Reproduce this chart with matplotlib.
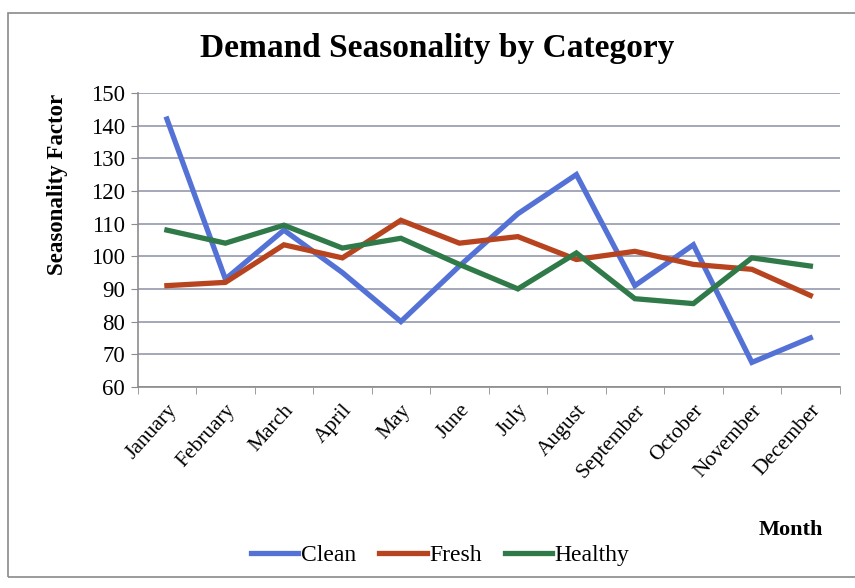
import numpy as np
import matplotlib.pyplot as plt
from matplotlib.patches import Rectangle
from matplotlib.ticker import FixedLocator, NullFormatter

plt.rcParams['font.family'] = ['Liberation Serif', 'DejaVu Serif']

months = ["January", "February", "March", "April", "May", "June", "July",
          "August", "September", "October", "November", "December"]
clean = [142, 93, 108, 95, 80, 97, 113, 125, 91, 103.5, 67.5, 75]
fresh = [91, 92, 103.5, 99.5, 111, 104, 106, 99, 101.5, 97.5, 96, 88]
healthy = [108, 104, 109.5, 102.5, 105.5, 97.5, 90, 101, 87, 85.5, 99.5, 97]

series = [("Clean", clean, "#5472d6"),
          ("Fresh", fresh, "#b8431f"),
          ("Healthy", healthy, "#2f7a48")]

fig = plt.figure(figsize=(8.55, 5.88), dpi=100)
ax = fig.add_axes([0.161, 0.342, 0.821, 0.500])

x = np.arange(len(months))
for name, vals, col in series:
    ax.plot(x, vals, color=col, linewidth=3.8, label=name, solid_joinstyle='miter')

ax.set_xlim(-0.5, len(months) - 0.5)
ax.set_ylim(60, 150)
ax.set_yticks(np.arange(60, 151, 10))
ax.yaxis.grid(True, color="#8c8fa6", linewidth=1.1)
ax.set_axisbelow(True)

# month labels sit on the categories, tick marks go between them
ax.set_xticks(x)
ax.set_xticklabels(months, rotation=48, ha='right', rotation_mode='anchor', fontsize=15.5)
ax.xaxis.set_minor_locator(FixedLocator(np.arange(-0.5, len(months), 1)))
ax.xaxis.set_minor_formatter(NullFormatter())
ax.tick_params(axis='x', which='major', length=0, pad=10)
ax.tick_params(axis='x', which='minor', length=5, color="#8c8c8c")
ax.tick_params(axis='y', length=5, color="#8c8c8c", labelsize=16.5, pad=4)

for side in ("top", "right"):
    ax.spines[side].set_visible(False)
for side in ("left", "bottom"):
    ax.spines[side].set_color("#8c8c8c")
    ax.spines[side].set_linewidth(1.2)

fig.text(0.511, 0.918, "Demand Seasonality by Category", ha='center', va='center',
         fontsize=24, fontweight='bold')
fig.text(0.067, 0.687, "Seasonality Factor", rotation=90, ha='center', va='center',
         fontsize=16.5, fontweight='bold')
fig.text(0.925, 0.098, "Month", ha='center', va='center', fontsize=16, fontweight='bold')

fig.legend(loc='center', bbox_to_anchor=(0.515, 0.055), ncol=3, frameon=False,
           fontsize=17, handlelength=2.0, handletextpad=0.1, columnspacing=1.0)

# chart-area frame
fig.patches.append(Rectangle((0.009, 0.018), 1.5, 0.96, transform=fig.transFigure,
                             fill=False, edgecolor="#8a8a8a", linewidth=1.2))

fig.savefig("out.png", dpi=100)
